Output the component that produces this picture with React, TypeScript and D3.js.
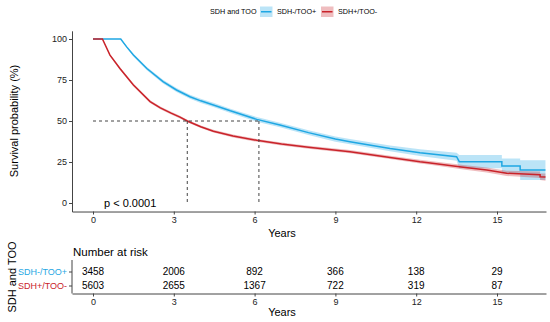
import React, { useRef, useEffect } from "react";
import * as d3 from "d3";

const groups = ["SDH-/TOO+", "SDH+/TOO-"];
const colors = ["#1FA7E3", "#C9232A"];

// [years, survival %, half width of the confidence band]
const survBlue = [
  [0, 100, 0], [1.03, 100, 0], [1.25, 95.2, 0.6], [1.5, 90.2, 0.8], [2.0, 82, 1],
  [2.6, 74, 1.1], [3.1, 68.9, 1.2], [3.6, 64.8, 1.2], [4.0, 62.3, 1.3],
  [4.47, 59.8, 1.3], [5.1, 56.2, 1.3], [6.08, 51, 1.4], [6.94, 47.6, 1.4],
  [8.0, 42.9, 1.5], [9.0, 39, 1.6], [9.54, 37.4, 1.6], [11.03, 33.3, 1.8],
  [12.14, 30.7, 2], [13.5, 28.2, 2.5], [13.6, 25.2, 4], [15.18, 25.2, 4],
  [15.18, 22.6, 4.5], [15.86, 22.6, 4.5], [15.86, 20.1, 6], [16.8, 20.1, 6],
];
const survRed = [
  [0, 100, 0], [0.35, 100, 0], [0.63, 90.2, 0.6], [1.0, 82, 0.7], [1.5, 72, 0.8],
  [2.12, 61.8, 0.8], [2.5, 58, 0.8], [2.9, 54.8, 0.8], [3.23, 52.4, 0.8],
  [3.5, 50, 0.8], [4.0, 46.5, 0.8], [4.47, 43.8, 0.8], [5.2, 40.8, 0.9],
  [6.08, 38.2, 0.9], [7.0, 36, 0.9], [8.0, 34, 0.9], [9.54, 31.3, 1],
  [11.03, 27.8, 1], [12.14, 25.2, 1.1], [12.45, 24.6, 1.1], [13.75, 21.8, 1.3],
  [14.62, 20.1, 1.5], [15.36, 18.1, 1.6], [16.6, 17.2, 2], [16.6, 16, 2],
  [16.8, 15.8, 2.2],
];
const medians = [6.16, 3.5];

const yTicks = [0, 25, 50, 75, 100];
const riskTimes = [0, 3, 6, 9, 12, 15];
const riskBlue = [3458, 2006, 892, 366, 138, 29];
const riskRed = [5603, 2655, 1367, 722, 319, 87];

const font = "'Liberation Sans', Arial, sans-serif";

function App() {
  const svgRef = useRef(null);

  useEffect(() => {
    const svg = d3.select(svgRef.current);
    svg.selectAll("*").remove();

    const x = d3.scaleLinear().domain([0, 15]).range([93, 497]);
    const y = d3.scaleLinear().domain([0, 100]).range([203, 39]);

    // axes stretch a bit past the data like ggplot's expansion
    const xAxisScale = x.copy().domain([x.invert(72), x.invert(546)]).range([72, 546]);
    const yAxisScale = y.copy().domain([-5.2, 105]).range([y(-5.2), y(105)]);

    // bands and curves
    const series = [survBlue, survRed];
    series.forEach((data, i) => {
      const area = d3.area()
        .x(d => x(d[0]))
        .y0(d => y(d[1] - d[2]))
        .y1(d => y(d[1] + d[2]));
      svg.append("path")
        .attr("d", area(data))
        .attr("fill", colors[i])
        .attr("opacity", 0.3);
    });
    series.forEach((data, i) => {
      const line = d3.line().x(d => x(d[0])).y(d => y(d[1]));
      svg.append("path")
        .attr("d", line(data))
        .attr("fill", "none")
        .attr("stroke", colors[i])
        .attr("stroke-width", 1.5);
    });

    // median lines
    const dash = svg.append("g")
      .attr("stroke", "#444")
      .attr("stroke-width", 1)
      .attr("stroke-dasharray", "3,3")
      .attr("fill", "none");
    dash.append("line")
      .attr("x1", x(0)).attr("x2", x(d3.max(medians)))
      .attr("y1", y(50)).attr("y2", y(50));
    medians.forEach(m => {
      dash.append("line")
        .attr("x1", x(m)).attr("x2", x(m))
        .attr("y1", y(50)).attr("y2", y(0));
    });

    // main axes
    const gx = svg.append("g")
      .attr("transform", `translate(0,${yAxisScale.range()[0]})`)
      .call(d3.axisBottom(xAxisScale).tickValues(riskTimes).tickSize(3).tickSizeOuter(0).tickPadding(2));
    const gy = svg.append("g")
      .attr("transform", `translate(${xAxisScale.range()[0]},0)`)
      .call(d3.axisLeft(yAxisScale).tickValues(yTicks).tickSize(3).tickSizeOuter(0).tickPadding(2));
    [gx, gy].forEach(g => {
      g.selectAll("path,line").attr("stroke", "#444");
      g.selectAll("text").attr("font-family", font).attr("font-size", 9).attr("fill", "#222");
    });

    svg.append("text")
      .attr("x", 282).attr("y", 237)
      .attr("text-anchor", "middle")
      .attr("font-family", font).attr("font-size", 11)
      .text("Years");
    svg.append("text")
      .attr("transform", `translate(18,${y(50)}) rotate(-90)`)
      .attr("text-anchor", "middle")
      .attr("font-family", font).attr("font-size", 11)
      .text("Survival probability (%)");
    svg.append("text")
      .attr("x", 104).attr("y", 206.5)
      .attr("font-family", font).attr("font-size", 11)
      .text("p < 0.0001");

    // legend
    const legend = svg.append("g").attr("font-family", font).attr("font-size", 7.2);
    legend.append("text").attr("x", 210).attr("y", 14).text("SDH and TOO");
    const keyX = [260, 321];
    groups.forEach((g, i) => {
      legend.append("rect")
        .attr("x", keyX[i]).attr("y", 6.5).attr("width", 12.5).attr("height", 10.5)
        .attr("fill", colors[i]).attr("opacity", 0.3);
      legend.append("line")
        .attr("x1", keyX[i] + 1).attr("x2", keyX[i] + 11.5)
        .attr("y1", 11.75).attr("y2", 11.75)
        .attr("stroke", colors[i]).attr("stroke-width", 1.5);
      legend.append("text").attr("x", keyX[i] + 17).attr("y", 14).text(g);
    });

    // risk table
    const rows = d3.scalePoint().domain(groups).range([271.5, 285.5]);
    svg.append("text")
      .attr("x", 73).attr("y", 256)
      .attr("font-family", font).attr("font-size", 11.5)
      .text("Number at risk");
    [riskBlue, riskRed].forEach((vals, i) => {
      svg.append("g").selectAll("text")
        .data(vals)
        .join("text")
        .attr("x", (d, j) => x(riskTimes[j]))
        .attr("y", rows(groups[i]))
        .attr("dy", "0.35em")
        .attr("text-anchor", "middle")
        .attr("font-family", font).attr("font-size", 10)
        .text(d => d);
    });
    const ry = svg.append("g")
      .attr("transform", "translate(72,0)")
      .call(d3.axisLeft(rows).tickSize(3).tickSizeOuter(0).tickPadding(2));
    ry.select(".domain").attr("d", "M0,260V293.5");
    ry.selectAll("text")
      .attr("font-family", font).attr("font-size", 9)
      .attr("fill", (d, i) => colors[i]);
    const rx = svg.append("g")
      .attr("transform", "translate(0,293.5)")
      .call(d3.axisBottom(xAxisScale).tickValues(riskTimes).tickSize(3).tickSizeOuter(0).tickPadding(2));
    rx.selectAll("text").attr("font-family", font).attr("font-size", 9).attr("fill", "#222");
    [ry, rx].forEach(g => g.selectAll("path,line").attr("stroke", "#444"));

    svg.append("text")
      .attr("x", 282).attr("y", 316)
      .attr("text-anchor", "middle")
      .attr("font-family", font).attr("font-size", 11)
      .text("Years");
    svg.append("text")
      .attr("transform", "translate(16,277) rotate(-90)")
      .attr("text-anchor", "middle")
      .attr("font-family", font).attr("font-size", 11)
      .text("SDH and TOO");
  }, []);

  return (
    <svg
      ref={svgRef}
      width={550}
      height={322}
      style={{ position: "absolute", left: 0, top: 0, background: "#fff" }}
    ></svg>
  );
}

export default App;
